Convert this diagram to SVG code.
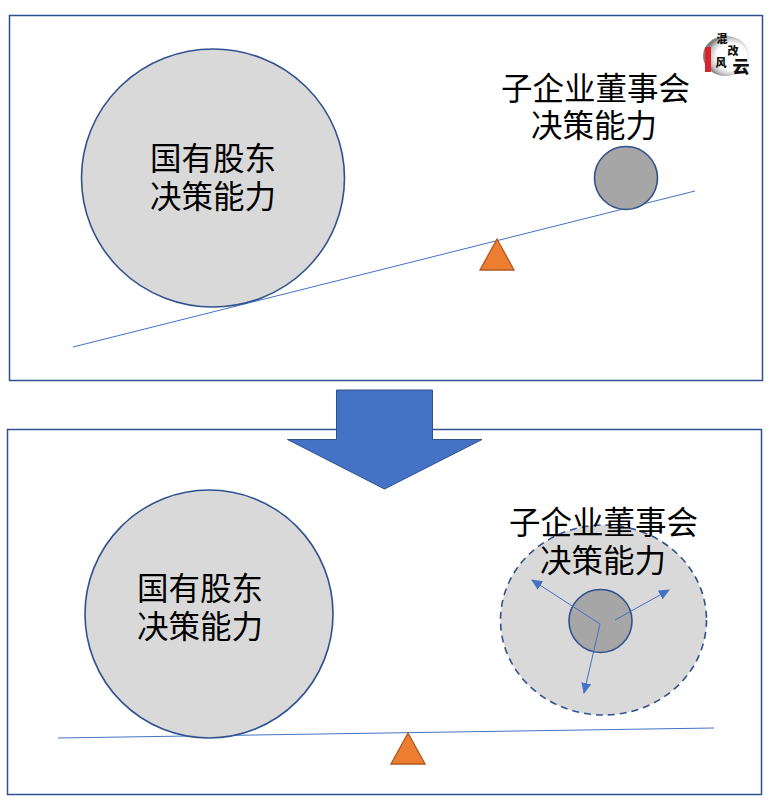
<svg xmlns="http://www.w3.org/2000/svg" width="770" height="802" viewBox="0 0 770 802">
<defs>
<style>
.panel{fill:#fff;stroke:#2f528f;stroke-width:1.5}
.big{fill:#d9d9d9;stroke:#2f528f;stroke-width:1.6}
.small{fill:#a6a6a6;stroke:#2f528f;stroke-width:1.6}
.beam{fill:none;stroke:#4472c4;stroke-width:1}
.tri{fill:#ed7d31;stroke:#ae5a21;stroke-width:1.3}
.arr{fill:none;stroke:#4472c4;stroke-width:1;marker-end:url(#ah)}
text{font-family:"Noto Sans CJK SC","Noto Sans CJK JP",sans-serif;font-size:31.5px;fill:#000;text-anchor:middle}
.lg{font-family:"Noto Sans CJK SC",sans-serif;font-weight:900;fill:#111}
</style>
<marker id="ah" markerUnits="userSpaceOnUse" markerWidth="12" markerHeight="12" refX="10" refY="5" orient="auto"><path d="M0 0L11 5L0 10Z" fill="#4472c4"/></marker>
<radialGradient id="lgb" cx="0.62" cy="0.52" r="0.55"><stop offset="0.6" stop-color="#fff"/><stop offset="0.85" stop-color="#c4c4c4"/><stop offset="1" stop-color="#808080"/></radialGradient>
</defs>
<g id="panel-top"><rect class="panel" x="9.500" y="15.500" width="753" height="365"/></g>
<g id="panel-bottom"><rect class="panel" x="7.500" y="429.500" width="754" height="365"/></g>
<g id="connectors">
<line class="beam" x1="73" y1="347" x2="695" y2="191"/>
<line class="beam" x1="58" y1="738" x2="714" y2="728"/>
</g>
<g id="logo">
<ellipse cx="726" cy="56" rx="23" ry="20" fill="url(#lgb)"/>
<rect x="705" y="47" width="6" height="25" fill="#d8232a"/>
<text class="lg" x="722" y="43" style="font-size:11px">混</text>
<text class="lg" x="733" y="55" style="font-size:11px">改</text>
<text class="lg" x="721" y="67" style="font-size:11px">风</text>
<text class="lg" x="741" y="73" style="font-size:17px">云</text>
</g>
<g id="big-top"><ellipse class="big" cx="213" cy="178" rx="131.500" ry="129"/><text x="213"><tspan x="213" y="170">国有股东</tspan><tspan x="213" y="208">决策能力</tspan></text></g>
<g id="small-top"><circle class="small" cx="626" cy="178" r="31.500"/></g>
<g id="label-top"><text><tspan x="595.500" y="100">子企业董事会</tspan><tspan x="594" y="137">决策能力</tspan></text></g>
<g id="tri-top"><path class="tri" d="M497 239L514 270H480Z"/></g>
<g id="down-arrow"><path d="M336.500 390H432.500V439.500H482L384.500 489L287.500 439.500H336.500Z" fill="#4472c4" stroke="#2f528f" stroke-width="1"/></g>
<g id="big-bottom"><circle class="big" cx="209" cy="614" r="124"/><text><tspan x="200" y="600">国有股东</tspan><tspan x="200" y="638">决策能力</tspan></text></g>
<g id="halo"><ellipse cx="603.500" cy="620" rx="103" ry="95" fill="#d9d9d9" stroke="#2f528f" stroke-width="1.6" stroke-dasharray="7 5"/></g>
<g id="small-bottom"><circle class="small" cx="600.500" cy="621" r="31.500"/></g>
<g id="spread-arrows">
<line class="arr" x1="600" y1="624" x2="532" y2="580"/>
<line class="arr" x1="615" y1="620" x2="669" y2="590"/>
<line class="arr" x1="600" y1="624" x2="584" y2="693"/>
</g>
<g id="label-bottom"><text><tspan x="603.500" y="534">子企业董事会</tspan><tspan x="603" y="572">决策能力</tspan></text></g>
<g id="tri-bottom"><path class="tri" d="M408 733L425 764H391Z"/></g>
</svg>
